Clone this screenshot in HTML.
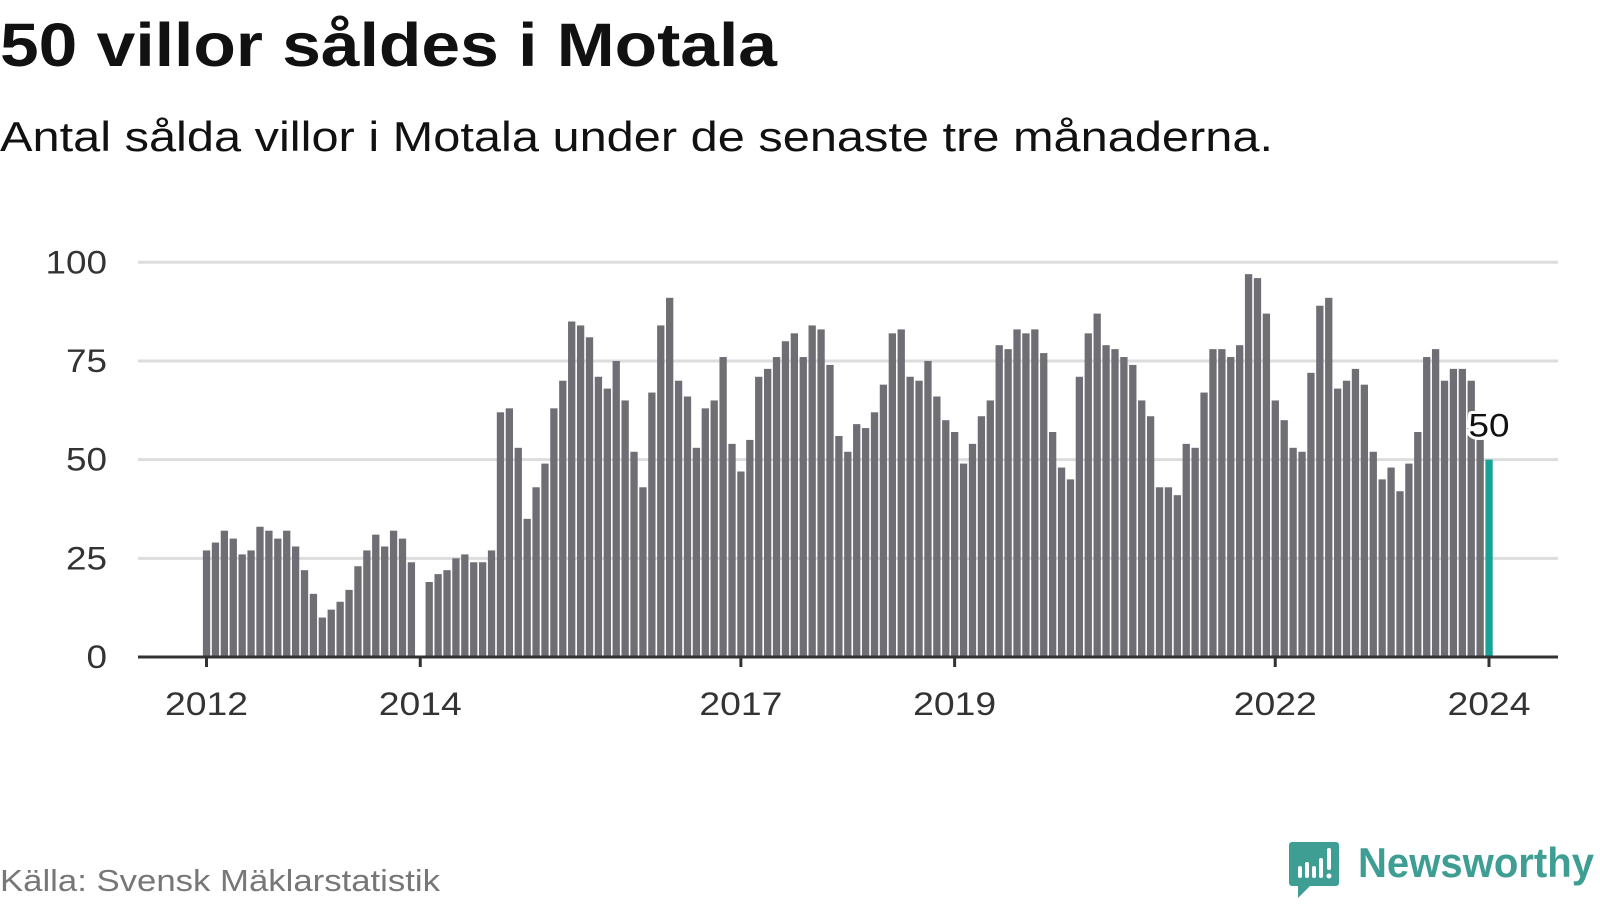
<!DOCTYPE html>
<html><head><meta charset="utf-8"><style>
html,body{margin:0;padding:0;background:#fff;}
body{width:1600px;height:900px;overflow:hidden;font-family:"Liberation Sans","DejaVu Sans",sans-serif;}
</style></head><body>
<svg id="chart" width="1600" height="900" viewBox="0 0 1600 900" xmlns="http://www.w3.org/2000/svg">
<text x="0" y="66" font-size="61" font-weight="bold" fill="#111" textLength="777" lengthAdjust="spacingAndGlyphs">50 villor såldes i Motala</text>
<text x="0" y="151" font-size="42" fill="#111" textLength="1273" lengthAdjust="spacingAndGlyphs">Antal sålda villor i Motala under de senaste tre månaderna.</text>
<g id="grid"></g>
<g id="bars"></g>
<g id="xaxis"></g>
<g id="yaxis"></g>
<text x="0" y="891" font-size="31" fill="#777" textLength="440" lengthAdjust="spacingAndGlyphs">Källa: Svensk Mäklarstatistik</text>
<g>
<path d="M1292 842 h44 a3 3 0 0 1 3 3 v38 a3 3 0 0 1 -3 3 h-26 l-12 12 v-12 h-6 a3 3 0 0 1 -3 -3 v-38 a3 3 0 0 1 3 -3z" fill="#3f9e93"/>
<rect x="1298" y="866" width="4" height="12" rx="2" fill="#fff"/>
<rect x="1305" y="862" width="4" height="16" rx="2" fill="#fff"/>
<rect x="1312" y="866" width="4" height="12" rx="2" fill="#fff"/>
<rect x="1319" y="858" width="4" height="20" rx="2" fill="#fff"/>
<rect x="1327" y="848" width="4" height="22" rx="2" fill="#fff"/>
<circle cx="1329" cy="876" r="2.5" fill="#fff"/>
<text x="1358" y="877" font-size="42" font-weight="bold" fill="#3f9e93" textLength="236" lengthAdjust="spacingAndGlyphs">Newsworthy</text>
</g>
</svg>
<script>
const years = [2012,2014,2017,2019,2022,2024];
const yTicks = [0,25,50,75,100];
const v2012 = [27,29,32,30,26,27,33,32,30,32,28,22];
const v2013 = [16,10,12,14,17,23,27,31,28,32,30,24];
const v2014 = [null,19,21,22,25,26,24,24,27,62,63,53];
const v2015 = [35,43,49,63,70,85,84,81,71,68,75,65];
const v2016 = [52,43,67,84,91,70,66,53,63,65,76,54];
const v2017 = [47,55,71,73,76,80,82,76,84,83,74,56];
const v2018 = [52,59,58,62,69,82,83,71,70,75,66,60];
const v2019 = [57,49,54,61,65,79,78,83,82,83,77,57];
const v2020 = [48,45,71,82,87,79,78,76,74,65,61,43];
const v2021 = [43,41,54,53,67,78,78,76,79,97,96,87];
const v2022 = [65,60,53,52,72,89,91,68,70,73,69,52];
const v2023 = [45,48,42,49,57,76,78,70,73,73,70,55];
const v2024 = [50];
const values = [].concat(v2012,v2013,v2014,v2015,v2016,v2017,v2018,v2019,v2020,v2021,v2022,v2023,v2024);

const NS='http://www.w3.org/2000/svg';
const x0=206.5, step=(1489-206.5)/144, y0=657, yScale=3.947;
const xPos = i => x0 + i*step;
const yPos = v => y0 - v*yScale;
function mk(tag,attrs,parent){const e=document.createElementNS(NS,tag);for(const k in attrs)e.setAttribute(k,attrs[k]);parent.appendChild(e);return e;}
const grid=document.getElementById('grid'), bars=document.getElementById('bars'), xa=document.getElementById('xaxis'), ya=document.getElementById('yaxis');
yTicks.forEach(t=>{
  if(t>0){const l=mk('line',{x1:138,x2:1558,y1:yPos(t),y2:yPos(t),stroke:'#dddddd','stroke-width':3},grid);
  
  }
  const s=String(t);
  const tx=mk('text',{x:107,y:yPos(t)+11,'font-size':32,fill:'#333','text-anchor':'end',textLength:s.length*20.5,lengthAdjust:'spacingAndGlyphs'},ya);
  tx.textContent=s;
  
  
});
const n=values.length;
values.forEach((v,i)=>{
  if(v===null)return;
  const last=i===n-1;
  const r=mk('rect',{x:xPos(i)-3.6,y:yPos(v),width:7.3,height:v*yScale,fill:last?'#17a398':'#6f6e74'},bars);
  
  
});
const lv=values[n-1];
const lbl=mk('text',{x:xPos(n-1),y:yPos(lv)-23,'font-size':32,fill:'#111','text-anchor':'middle',stroke:'#fff','stroke-width':6,'paint-order':'stroke','stroke-linejoin':'round',textLength:41,lengthAdjust:'spacingAndGlyphs'},bars);
lbl.textContent=lv;


const ax=mk('line',{x1:138,x2:1558,y1:y0,y2:y0,stroke:'#333','stroke-width':3},xa);


years.forEach(y=>{
  const i=(y-2012)*12;
  const tk=mk('line',{x1:xPos(i),x2:xPos(i),y1:y0,y2:y0+10,stroke:'#333','stroke-width':3},xa);
  
  
  const t=mk('text',{x:xPos(i),y:715,'font-size':32,fill:'#333','text-anchor':'middle',textLength:83,lengthAdjust:'spacingAndGlyphs'},xa);
  t.textContent=y;
  
  
});
</script>
</body></html>
